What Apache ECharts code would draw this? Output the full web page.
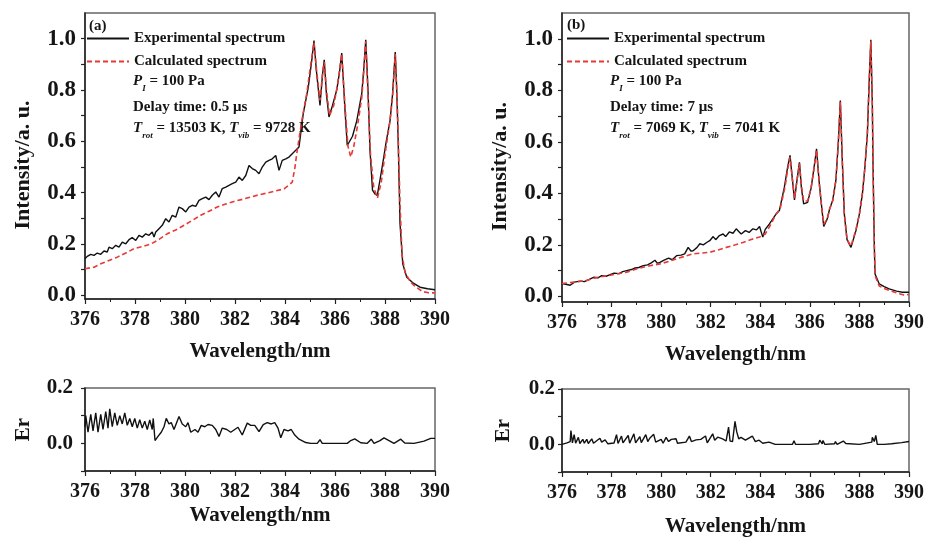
<!DOCTYPE html>
<html>
<head>
<meta charset="utf-8">
<script src="https://cdn.jsdelivr.net/npm/echarts@6/dist/echarts.min.js"></script>
<style>html,body{margin:0;background:#fff}#main{width:927px;height:538px}</style>
</head>
<body>
<div id="main"></div>
<script>
// (a) delay 0.5 us : experimental and calculated spectra
var expA = [[376.0,0.143],[376.09,0.152],[376.23,0.160],[376.36,0.156],[376.49,0.165],[376.63,0.160],[376.76,0.173],[376.89,0.169],[376.96,0.188],[377.09,0.182],[377.23,0.195],[377.36,0.188],[377.49,0.208],[377.63,0.201],[377.76,0.217],[377.89,0.225],[378.03,0.214],[378.16,0.234],[378.29,0.227],[378.43,0.240],[378.56,0.234],[378.69,0.247],[378.76,0.227],[378.83,0.247],[378.96,0.260],[379.09,0.273],[379.23,0.299],[379.36,0.286],[379.49,0.312],[379.63,0.305],[379.76,0.344],[379.89,0.338],[380.03,0.325],[380.16,0.344],[380.29,0.351],[380.43,0.347],[380.56,0.370],[380.69,0.377],[380.83,0.383],[380.96,0.373],[381.09,0.390],[381.23,0.403],[381.36,0.383],[381.49,0.416],[381.63,0.422],[381.76,0.429],[381.89,0.435],[382.03,0.441],[382.16,0.461],[382.29,0.448],[382.43,0.467],[382.56,0.506],[382.69,0.494],[382.83,0.487],[382.96,0.474],[383.09,0.500],[383.23,0.519],[383.36,0.526],[383.49,0.532],[383.63,0.545],[383.76,0.487],[383.89,0.526],[384.03,0.532],[384.16,0.539],[384.29,0.552],[384.43,0.565],[384.56,0.578],[384.73,0.708],[384.93,0.81],[385.07,0.915],[385.16,0.993],[385.25,0.88],[385.4,0.74],[385.5,0.86],[385.57,0.918],[385.66,0.78],[385.76,0.695],[385.9,0.74],[386.07,0.80],[386.18,0.87],[386.27,0.944],[386.4,0.72],[386.49,0.584],[386.57,0.578],[386.7,0.62],[386.87,0.68],[387.07,0.786],[387.15,0.88],[387.23,0.996],[387.32,0.80],[387.4,0.565],[387.5,0.41],[387.6,0.395],[387.69,0.39],[387.8,0.45],[387.93,0.526],[388.05,0.60],[388.2,0.68],[388.3,0.78],[388.41,0.948],[388.47,0.80],[388.53,0.59],[388.6,0.28],[388.71,0.123],[388.87,0.071],[389.1,0.05],[389.4,0.032],[389.7,0.026],[390.0,0.022]];
var calA = [[376.0,0.104],[376.36,0.110],[376.63,0.123],[376.96,0.136],[377.29,0.149],[377.63,0.165],[377.96,0.182],[378.29,0.19],[378.63,0.20],[378.96,0.218],[379.29,0.24],[379.63,0.255],[379.96,0.273],[380.29,0.292],[380.63,0.312],[380.96,0.328],[381.29,0.344],[381.63,0.356],[381.96,0.366],[382.29,0.374],[382.63,0.383],[382.96,0.392],[383.29,0.399],[383.63,0.407],[383.96,0.415],[384.16,0.43],[384.29,0.441],[384.4,0.50],[384.47,0.552],[384.67,0.68],[384.87,0.786],[385.0,0.88],[385.16,0.985],[385.26,0.88],[385.4,0.76],[385.5,0.86],[385.57,0.91],[385.66,0.80],[385.78,0.70],[385.95,0.74],[386.1,0.82],[386.27,0.94],[386.4,0.74],[386.52,0.58],[386.63,0.539],[386.75,0.58],[386.9,0.66],[387.07,0.77],[387.15,0.87],[387.23,0.99],[387.32,0.78],[387.42,0.55],[387.55,0.42],[387.7,0.38],[387.85,0.44],[388.0,0.55],[388.2,0.68],[388.3,0.77],[388.41,0.94],[388.5,0.72],[388.6,0.36],[388.68,0.16],[388.8,0.09],[389.0,0.055],[389.2,0.035],[389.5,0.015],[389.75,0.01],[390.0,0.01]];
// (b) delay 7 us
var expB = [[376.0,0.05],[376.15,0.047],[376.33,0.043],[376.5,0.055],[376.73,0.059],[376.9,0.057],[377.1,0.066],[377.27,0.074],[377.45,0.072],[377.6,0.08],[377.78,0.078],[377.94,0.084],[378.1,0.09],[378.3,0.088],[378.45,0.096],[378.61,0.1],[378.8,0.104],[378.95,0.11],[379.1,0.112],[379.28,0.119],[379.45,0.122],[379.6,0.13],[379.75,0.14],[379.85,0.128],[379.95,0.132],[380.1,0.14],[380.3,0.148],[380.45,0.142],[380.62,0.158],[380.8,0.16],[380.95,0.165],[381.09,0.19],[381.2,0.176],[381.29,0.177],[381.45,0.19],[381.56,0.204],[381.7,0.2],[381.85,0.21],[381.96,0.216],[382.1,0.232],[382.2,0.22],[382.35,0.236],[382.5,0.242],[382.6,0.232],[382.75,0.25],[382.9,0.245],[383.03,0.262],[383.15,0.25],[383.23,0.242],[383.4,0.255],[383.55,0.248],[383.7,0.262],[383.85,0.258],[383.97,0.271],[384.1,0.23],[384.2,0.26],[384.37,0.281],[384.5,0.30],[384.64,0.32],[384.77,0.333],[384.97,0.423],[385.1,0.50],[385.2,0.547],[385.3,0.45],[385.38,0.374],[385.48,0.45],[385.58,0.52],[385.66,0.42],[385.75,0.359],[385.91,0.365],[386.05,0.42],[386.17,0.5],[386.27,0.573],[386.37,0.45],[386.45,0.372],[386.56,0.271],[386.7,0.30],[386.8,0.34],[386.92,0.372],[387.05,0.45],[387.15,0.6],[387.23,0.76],[387.3,0.55],[387.39,0.32],[387.5,0.22],[387.66,0.19],[387.86,0.255],[388.0,0.32],[388.12,0.398],[388.22,0.5],[388.32,0.63],[388.4,0.85],[388.46,0.996],[388.52,0.75],[388.55,0.50],[388.6,0.2],[388.63,0.087],[388.8,0.048],[389.0,0.038],[389.2,0.029],[389.5,0.02],[389.73,0.016],[390.0,0.016]];
var calB = [[376.0,0.05],[376.5,0.055],[377.0,0.062],[377.27,0.07],[377.7,0.078],[378.0,0.083],[378.61,0.094],[379.0,0.106],[379.5,0.118],[379.95,0.126],[380.3,0.135],[380.7,0.148],[381.29,0.165],[381.6,0.168],[381.96,0.171],[382.3,0.18],[382.63,0.19],[383.0,0.2],[383.3,0.209],[383.6,0.22],[383.97,0.23],[384.2,0.242],[384.37,0.27],[384.64,0.32],[384.8,0.34],[385.0,0.425],[385.1,0.49],[385.2,0.54],[385.3,0.45],[385.38,0.38],[385.48,0.45],[385.58,0.515],[385.66,0.43],[385.75,0.37],[385.91,0.37],[386.05,0.42],[386.17,0.5],[386.27,0.568],[386.37,0.45],[386.45,0.37],[386.56,0.28],[386.7,0.30],[386.8,0.34],[386.92,0.37],[387.05,0.45],[387.15,0.6],[387.23,0.755],[387.3,0.55],[387.39,0.32],[387.5,0.22],[387.66,0.195],[387.86,0.26],[388.0,0.32],[388.12,0.40],[388.22,0.5],[388.32,0.63],[388.4,0.85],[388.46,0.99],[388.52,0.75],[388.55,0.5],[388.6,0.2],[388.63,0.08],[388.8,0.04],[389.0,0.03],[389.3,0.02],[389.6,0.01],[389.8,0.005],[390.0,0.007]];
// residuals
var erA = [[376.0,0.06],[376.03,0.10],[376.12,0.04],[376.23,0.105],[376.32,0.045],[376.43,0.11],[376.52,0.04],[376.63,0.105],[376.72,0.05],[376.83,0.115],[376.92,0.055],[376.99,0.125],[377.09,0.06],[377.19,0.11],[377.29,0.065],[377.39,0.10],[377.49,0.07],[377.59,0.11],[377.69,0.065],[377.79,0.09],[377.89,0.06],[377.99,0.09],[378.09,0.055],[378.19,0.085],[378.29,0.055],[378.39,0.08],[378.49,0.05],[378.59,0.085],[378.69,0.05],[378.73,0.09],[378.8,0.01],[378.92,0.025],[379.05,0.04],[379.16,0.06],[379.25,0.09],[379.36,0.07],[379.45,0.075],[379.56,0.05],[379.76,0.097],[379.89,0.07],[380.03,0.06],[380.12,0.075],[380.23,0.04],[380.4,0.05],[380.52,0.04],[380.65,0.065],[380.79,0.06],[380.92,0.068],[381.09,0.065],[381.23,0.05],[381.36,0.025],[381.49,0.055],[381.67,0.05],[381.83,0.04],[381.99,0.05],[382.12,0.058],[382.29,0.03],[382.49,0.073],[382.63,0.065],[382.79,0.065],[382.96,0.042],[383.13,0.068],[383.29,0.075],[383.45,0.07],[383.59,0.075],[383.72,0.055],[383.83,0.02],[383.96,0.05],[384.12,0.045],[384.25,0.05],[384.39,0.03],[384.56,0.015],[384.83,0.003],[385.03,0],[385.29,0],[385.4,0.013],[385.49,0],[386.49,0],[386.63,0.01],[386.79,0.016],[387.03,0.002],[387.29,0.0],[387.45,0.015],[387.56,0],[387.8,0.01],[387.96,0.02],[388.16,0.01],[388.36,0],[388.63,0.015],[388.79,0.001],[389.16,0],[389.56,0.008],[389.83,0.018],[390.0,0.018]];
var erB = [[376.0,0.0],[376.2,0.005],[376.33,0.01],[376.36,0.05],[376.42,0.005],[376.49,0.035],[376.55,0.004],[376.66,0.025],[376.72,0.003],[376.84,0.018],[376.9,0.004],[377.0,0.018],[377.06,0.003],[377.2,0.02],[377.27,0.004],[377.53,0.022],[377.6,0.008],[377.74,0.016],[377.85,0.002],[378.1,0.005],[378.2,0.035],[378.26,0.003],[378.4,0.03],[378.46,0.005],[378.67,0.032],[378.73,0.004],[378.9,0.038],[378.97,0.005],[379.14,0.028],[379.2,0.006],[379.38,0.035],[379.46,0.01],[379.54,0.022],[379.7,0.036],[379.78,0.008],[380.0,0.018],[380.08,0.004],[380.2,0.025],[380.3,0.01],[380.41,0.018],[380.6,0.02],[380.66,0.004],[381.0,0.008],[381.14,0.03],[381.22,0.01],[381.41,0.016],[381.6,0.018],[381.79,0.03],[381.86,0.005],[382.08,0.038],[382.16,0.015],[382.28,0.026],[382.48,0.02],[382.62,0.012],[382.72,0.062],[382.78,0.012],[382.88,0.01],[382.98,0.083],[383.05,0.045],[383.13,0.02],[383.22,0.025],[383.4,0.015],[383.68,0.03],[383.8,0.01],[383.95,0.015],[384.1,0.004],[384.35,0.008],[384.6,0.0],[385.0,0.0],[385.3,0.0],[385.36,0.013],[385.42,0.0],[386.0,0.0],[386.35,0.002],[386.4,0.015],[386.5,0.002],[386.53,0.014],[386.6,0.0],[387.0,0.002],[387.03,0.01],[387.1,0.0],[387.35,0.012],[387.45,0.003],[388.0,0.0],[388.5,0.008],[388.52,0.025],[388.6,0.01],[388.66,0.032],[388.72,0.0],[389.0,0.0],[389.3,0.002],[389.7,0.006],[390.0,0.01]];

var intensityLabels = [0, 0.2, 0.4, 0.6, 0.8, 1.0];
var intensityTicks = [0, 0.1, 0.2, 0.3, 0.4, 0.5, 0.6, 0.7, 0.8, 0.9, 1.0];
var legendNames = ['Experimental spectrum', 'Calculated spectrum'];

var serif = '"Liberation Serif", "Times New Roman", serif';
var ink = '#151515';
var myChart = echarts.init(document.getElementById('main'));

function xAx(gi, gap) {
    return {
        type: 'value', gridIndex: gi, min: 376, max: 390, interval: 2,
        name: 'Wavelength/nm', nameLocation: 'middle', nameGap: gap,
        nameTextStyle: {fontFamily: serif, fontWeight: 'bold', fontSize: 21, color: ink},
        axisLine: {onZero: false, lineStyle: {color: '#222', width: 1.5}},
        axisTick: {length: 5, lineStyle: {color: '#222', width: 1.2}},
        minorTick: {show: true, splitNumber: 2, length: 3, lineStyle: {color: '#222', width: 1}},
        axisLabel: {margin: 11, fontFamily: serif, fontWeight: 'bold', fontSize: 20, color: ink},
        splitLine: {show: false}
    };
}
function yInt(gi, min) {
    return {
        type: 'value', gridIndex: gi, min: min, max: 1.1,
        name: 'Intensity/a. u.', nameLocation: 'middle', nameGap: 51,
        nameTextStyle: {fontFamily: serif, fontWeight: 'bold', fontSize: 22, color: ink, padding: [0, 18, 0, 0]},
        axisLine: {onZero: false, lineStyle: {color: '#222', width: 1.5}},
        axisTick: {length: 4, customValues: intensityTicks, lineStyle: {color: '#222', width: 1.2}},
        axisLabel: {margin: 9, customValues: intensityLabels, fontFamily: serif, fontWeight: 'bold', fontSize: 23, color: ink,
            formatter: function (v) { return v.toFixed(1); }},
        splitLine: {show: false}
    };
}
function yEr(gi, margin, gap) {
    return {
        type: 'value', gridIndex: gi, min: -0.1, max: 0.2, interval: 0.1,
        name: 'Er', nameLocation: 'middle', nameGap: gap,
        nameTextStyle: {fontFamily: serif, fontWeight: 'bold', fontSize: 21, color: ink},
        axisLine: {onZero: false, lineStyle: {color: '#222', width: 1.5}},
        axisTick: {length: 4, lineStyle: {color: '#222', width: 1.2}},
        axisLabel: {margin: margin, fontFamily: serif, fontWeight: 'bold', fontSize: 21, color: ink, showMinLabel: true, showMaxLabel: true,
            formatter: function (v) {
                var k = Math.round(v * 10);
                return k === 0 ? '0.0' : (k === 2 ? '0.2' : '');
            }},
        splitLine: {show: false}
    };
}
function lineSeries(name, data, xi, calc) {
    return {
        name: name, type: 'line', xAxisIndex: xi, yAxisIndex: xi, data: data,
        symbol: 'none', showSymbol: false, silent: true, z: calc ? 3 : 2,
        lineStyle: calc ? {color: '#e63a36', width: 1.6, type: [5, 3]} : {color: '#111', width: 1.4},
        itemStyle: {color: calc ? '#e63a36' : '#111'}
    };
}
function legendAt(left) {
    return {
        left: left, top: 31, orient: 'vertical', padding: 0, itemWidth: 42, itemHeight: 14, itemGap: 8,
        selectedMode: false, data: legendNames,
        itemStyle: {opacity: 0, color: 'transparent', borderWidth: 0},
        textStyle: {fontFamily: serif, fontWeight: 'bold', fontSize: 15, color: ink}
    };
}
var rich = {
    n: {fontFamily: serif, fontWeight: 'bold', fontSize: 15, fill: ink, lineHeight: 24},
    i: {fontFamily: serif, fontWeight: 'bold', fontStyle: 'italic', fontSize: 15, fill: ink, lineHeight: 24},
    s: {fontFamily: serif, fontWeight: 'bold', fontStyle: 'italic', fontSize: 9, fill: ink, lineHeight: 9, verticalAlign: 'bottom'}
};
function note(x, y, text) {
    return {type: 'text', x: x, y: y, silent: true, style: {text: text, rich: rich, verticalAlign: 'middle'}};
}

option = {
    backgroundColor: '#fff',
    animation: false,
    grid: [
        {left: 85, top: 13, width: 350, height: 286, show: true, borderColor: '#666', borderWidth: 1.5},
        {left: 562, top: 13, width: 348, height: 289, show: true, borderColor: '#666', borderWidth: 1.5},
        {left: 85, top: 388, width: 350, height: 83, show: true, borderColor: '#666', borderWidth: 1.5},
        {left: 562, top: 389, width: 348, height: 83, show: true, borderColor: '#666', borderWidth: 1.5}
    ],
    xAxis: [xAx(0, 42), xAx(1, 42), xAx(2, 34), xAx(3, 44)],
    yAxis: [yInt(0, -0.014), yInt(1, -0.022), yEr(2, 12, 51), yEr(3, 7, 48)],
    legend: [legendAt(86), legendAt(566)],
    graphic: [
        note(89, 26, '{n|(a)}'),
        note(133, 81, '{i|P}{s|I}{n| = 100 Pa}'),
        note(133, 107, '{n|Delay time: 0.5 μs}'),
        note(133, 128, '{i|T}{s|rot}{n| = 13503 K, }{i|T}{s|vib}{n| = 9728 K}'),
        note(567, 25, '{n|(b)}'),
        note(610, 81, '{i|P}{s|I}{n| = 100 Pa}'),
        note(610, 107, '{n|Delay time: 7 μs}'),
        note(610, 128, '{i|T}{s|rot}{n| = 7069 K, }{i|T}{s|vib}{n| = 7041 K}')
    ],
    series: [
        lineSeries(legendNames[0], expA, 0, false),
        lineSeries(legendNames[1], calA, 0, true),
        lineSeries(legendNames[0], expB, 1, false),
        lineSeries(legendNames[1], calB, 1, true),
        lineSeries('Er', erA, 2, false),
        lineSeries('Er', erB, 3, false)
    ]
};
myChart.setOption(option);
</script>
</body>
</html>
